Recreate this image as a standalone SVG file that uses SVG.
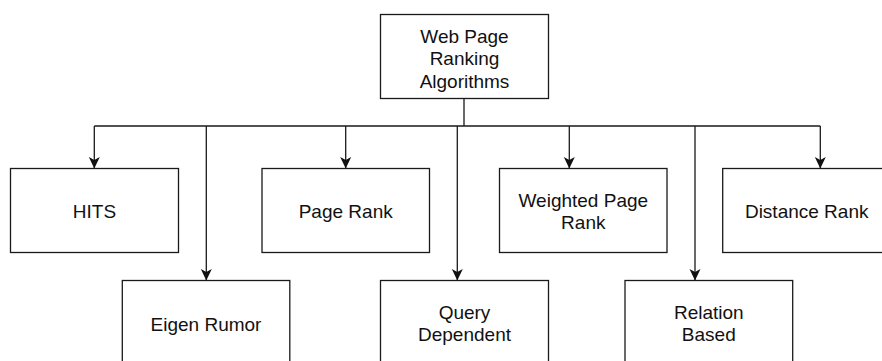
<svg xmlns="http://www.w3.org/2000/svg" width="882" height="361" viewBox="0 0 882 361">
  <style>
    .box rect { fill: #ffffff; stroke: #1a1a1a; stroke-width: 1.3; }
    .box text { font-family: "Liberation Sans", Arial, Helvetica, sans-serif; font-size: 19px; fill: #111111; text-anchor: middle; }
    .edge { fill: none; stroke: #1a1a1a; stroke-width: 1.3; }
    .arrow { marker-end: url(#head); }
  </style>
  <defs>
    <marker id="head" markerUnits="userSpaceOnUse" markerWidth="14" markerHeight="14" viewBox="-7 -13 14 14" refX="0" refY="0" orient="auto-start-reverse" overflow="visible">
      <path d="M0,0 L-5.5,-11.5 L0,-8.5 L5.5,-11.5 Z" fill="#111111" transform="rotate(-90)"/>
    </marker>
  </defs>
  <rect width="882" height="361" fill="#ffffff"/>

  <!-- connectors -->
  <g id="connectors">
    <path class="edge" d="M464,98.5 V126 M94.3,126 H820.3"/>
    <path class="edge arrow" d="M94.3,126 V168.5"/>
    <path class="edge arrow" d="M206.3,126 V280.5"/>
    <path class="edge arrow" d="M345.7,126 V168.5"/>
    <path class="edge arrow" d="M457.3,126 V280.5"/>
    <path class="edge arrow" d="M569.3,126 V168.5"/>
    <path class="edge arrow" d="M695,126 V280.5"/>
    <path class="edge arrow" d="M820.3,126 V168.5"/>
  </g>

  <!-- root -->
  <g id="root" class="box">
    <rect x="380.5" y="14.5" width="168" height="84"/>
    <text x="464.5" y="43">Web Page</text>
    <text x="464.5" y="65.3">Ranking</text>
    <text x="464.5" y="87.6">Algorithms</text>
  </g>

  <!-- upper row -->
  <g id="hits" class="box">
    <rect x="10.5" y="168.5" width="168" height="84"/>
    <text x="94.5" y="218.3">HITS</text>
  </g>
  <g id="page-rank" class="box">
    <rect x="262" y="168.5" width="167.5" height="84"/>
    <text x="345.7" y="218.3">Page Rank</text>
  </g>
  <g id="weighted-page-rank" class="box">
    <rect x="499.5" y="168.5" width="167.5" height="84"/>
    <text x="583.3" y="207.3">Weighted Page</text>
    <text x="583.3" y="229.3">Rank</text>
  </g>
  <g id="distance-rank" class="box">
    <rect x="722.7" y="168.5" width="168" height="84"/>
    <text x="806.7" y="218.3">Distance Rank</text>
  </g>

  <!-- lower row -->
  <g id="eigen-rumor" class="box">
    <rect x="122.3" y="280.5" width="167.5" height="84"/>
    <text x="206" y="330.5">Eigen Rumor</text>
  </g>
  <g id="query-dependent" class="box">
    <rect x="380.5" y="280.5" width="168" height="84"/>
    <text x="464.5" y="319.3">Query</text>
    <text x="464.5" y="341.3">Dependent</text>
  </g>
  <g id="relation-based" class="box">
    <rect x="625" y="280.5" width="167.7" height="84"/>
    <text x="708.8" y="319.3">Relation</text>
    <text x="708.8" y="341.3">Based</text>
  </g>
</svg>
